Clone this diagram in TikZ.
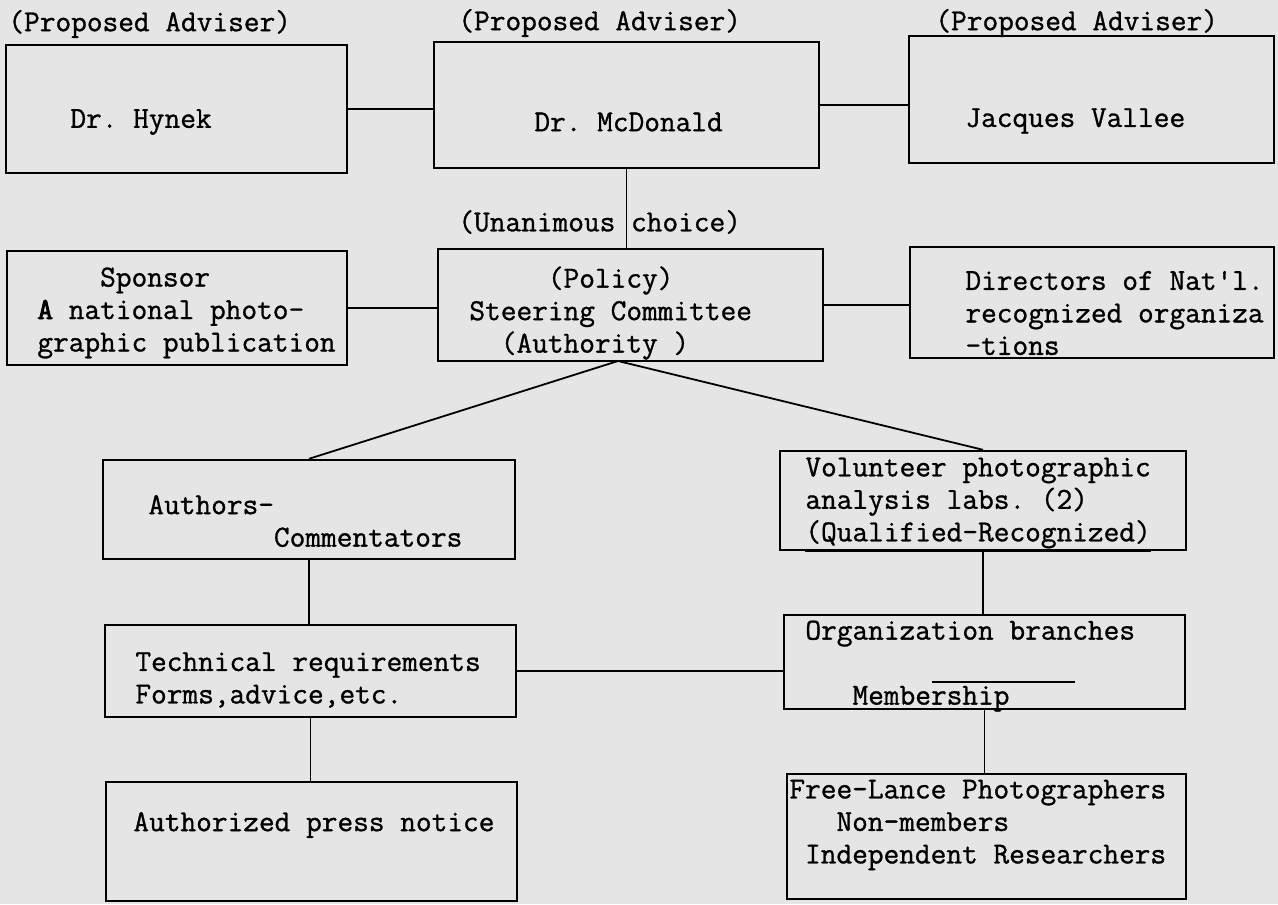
\documentclass[tikz,border=0pt]{standalone}
\usepackage{fontspec}
\setmonofont{Latin Modern Mono}[FakeBold=1]
\newfontfamily\heavytt{Latin Modern Mono}[FakeBold=3]
\usetikzlibrary{fit}
\begin{document}
\begin{tikzpicture}[x=0.5pt,y=-0.5pt,
  box/.style={draw, line width=1.2pt, inner sep=0pt},
  txt/.style={anchor=west, inner sep=0pt, align=left, font=\ttfamily\fontsize{15.24}{16.25}\selectfont},
  wire/.style={line width=0.9pt}]
\fill[black!10] (0,0) rectangle (1278,904);
\useasboundingbox (0,0) rectangle (1278,904);
% advisers
\node[box, fit={(6,45) (347,173)}] (hynek) {};
\node[box, fit={(434,42) (819,168)}] (mcd) {};
\node[box, fit={(909,36) (1274,163)}] (vallee) {};
\node[txt] (advh) at (8,24) {(Proposed Adviser)};
\node[txt] (advm) at (458,23) {(Proposed Adviser)};
\node[txt] (advv) at (935,23) {(Proposed Adviser)};
\node[txt] (hynekt) at (70,122) {Dr. Hynek};
\node[txt] (mcdt) at (534,122) {Dr. McDonald};
\node[txt] (valleet) at (965,121) {Jacques Vallee};
\node[txt] (unan) at (458,222) {(Unanimous choice)};
% committee row
\node[box, fit={(7,251) (347,365)}] (sponsor) {};
\node[box, fit={(438,249) (823,361)}] (steer) {};
\node[box, fit={(910,247) (1274,358)}] (directors) {};
\node[txt] (sponsort) at (37,313) {~~~~Sponsor\\{\heavytt A} national photo-\\graphic publication};
\node[txt] (steert) at (469,313) {~~~~~(Policy)\\Steering Committee\\~~(Authority~)};
\node[txt] (directorst) at (965,313) {Directors of Nat'l.\\recognized organiza\\-tions};
% working groups
\node[box, fit={(103,460) (515,559)}] (authors) {};
\node[box, fit={(780,451) (1186,550)}] (labs) {};
\node[box, fit={(105,625) (516,717)}] (techreq) {};
\node[box, fit={(784,615) (1185,709)}] (branches) {};
\node[box, fit={(106,782) (517,901)}] (press) {};
\node[box, fit={(787,774) (1186,899)}] (freelance) {};
\node[txt] (authorst) at (148,521) {Authors-\\~~~~~~~~Commentators};
\node[txt] (labst) at (805,505) {Volunteer photographic\\analysis labs. (2)\\\underline{(Qualified-Recognized)}};
\node[txt] (techreqt) at (135,680) {Technical requirements\\Forms,advice,etc.};
\node[txt] (branchest) at (805,666) {Organization branches\\[16.25pt]~~~Membership};
\node[txt] (presst) at (133,825) {Authorized press notice};
\node[txt] (freelancet) at (789,825) {Free-Lance Photographers\\~~~Non-members\\~Independent Researchers};
% connectors
\coordinate (apex) at (618,361);
\draw[wire] (hynek.east) -- (hynek.east -| mcd.west);
\draw[wire] (mcd.east) -- (mcd.east -| vallee.west);
\draw[wire] (mcd.south) -- (mcd.south |- steer.north);
\draw[wire] (sponsor.east) -- (sponsor.east -| steer.west);
\draw[wire] (steer.east) -- (steer.east -| directors.west);
\draw[wire] (apex) -- (authors.north);
\draw[wire] (apex) -- (labs.north);
\draw[wire] (authors.south) -- (authors.south |- techreq.north);
\draw[wire] (techreq.south) -- (techreq.south |- press.north);
\draw[wire] (techreq.east) -- (techreq.east -| branches.west);
\draw[wire] (labs.south) -- (labs.south |- branches.north);
\draw[wire] (branches.south) -- (branches.south |- freelance.north);
\draw[wire] (932,682) -- (1075,682);
\end{tikzpicture}
\end{document}
